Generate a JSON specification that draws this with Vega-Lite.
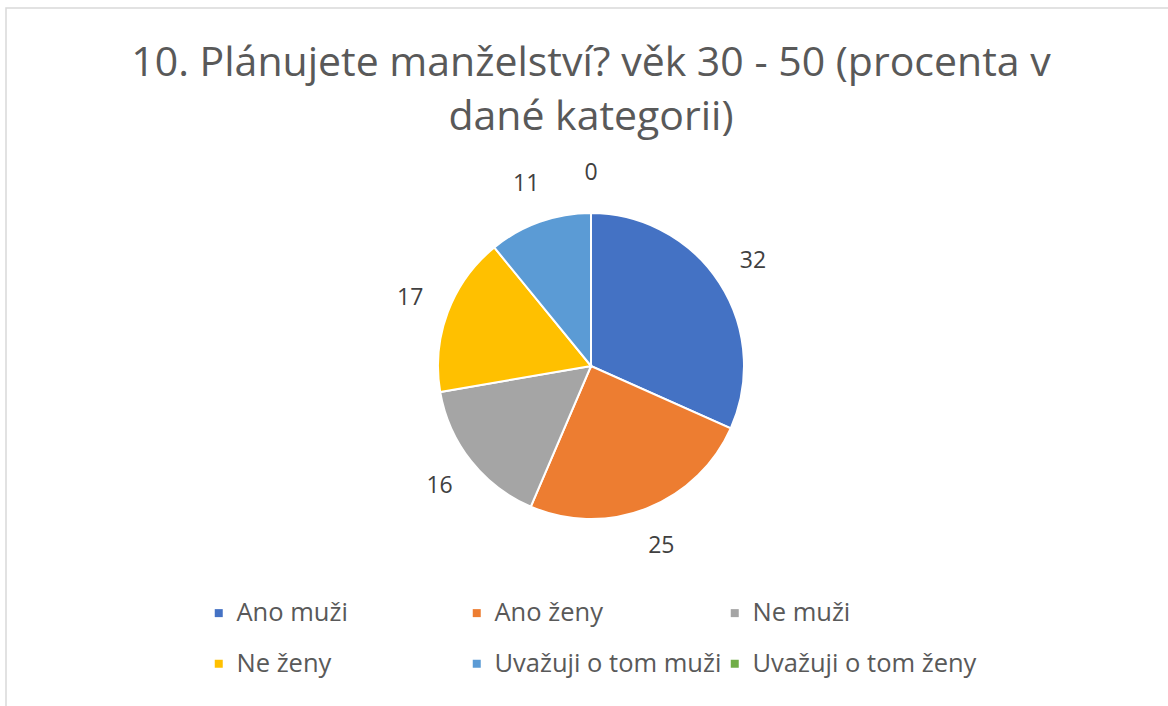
{
  "$schema": "https://vega.github.io/schema/vega-lite/v6.json",
  "width": 1170,
  "height": 716,
  "autosize": {"type": "none"},
  "padding": {"left": 6, "top": 8, "right": 0, "bottom": 0},
  "background": "white",
  "title": {
    "text": ["10. Plánujete manželství? věk 30 - 50 (procenta v", "dané kategorii)"],
    "anchor": "middle",
    "frame": "group",
    "font": "Open Sans",
    "fontSize": 41,
    "fontWeight": "normal",
    "color": "#595959",
    "lineHeight": 54,
    "offset": -131
  },
  "data": {
    "values": [
      {"i": 1, "kategorie": "Ano muži", "procenta": 32},
      {"i": 2, "kategorie": "Ano ženy", "procenta": 25},
      {"i": 3, "kategorie": "Ne muži", "procenta": 16},
      {"i": 4, "kategorie": "Ne ženy", "procenta": 17},
      {"i": 5, "kategorie": "Uvažuji o tom muži", "procenta": 11},
      {"i": 6, "kategorie": "Uvažuji o tom ženy", "procenta": 0}
    ]
  },
  "layer": [
    {
      "mark": {"type": "point", "opacity": 0},
      "encoding": {
        "x": {"field": "i", "type": "quantitative", "axis": null},
        "y": {"field": "procenta", "type": "quantitative", "axis": null}
      }
    },
    {
      "mark": {"type": "arc", "outerRadius": 153, "stroke": "white", "strokeWidth": 2},
      "encoding": {
        "theta": {"field": "procenta", "type": "quantitative", "stack": true},
        "order": {"field": "i", "type": "quantitative"},
        "color": {
          "field": "kategorie",
          "type": "nominal",
          "scale": {
            "domain": ["Ano muži", "Ano ženy", "Ne muži", "Ne ženy", "Uvažuji o tom muži", "Uvažuji o tom ženy"],
            "range": ["#4472C4", "#ED7D31", "#A5A5A5", "#FFC000", "#5B9BD5", "#70AD47"]
          },
          "legend": {
            "title": null,
            "orient": "none",
            "legendX": 200,
            "legendY": 592,
            "direction": "horizontal",
            "columns": 3,
            "gridAlign": "all",
            "columnPadding": 0,
            "rowPadding": 24,
            "symbolType": "square",
            "symbolSize": 64,
            "symbolStrokeWidth": 0,
            "labelFont": "Open Sans",
            "labelFontSize": 25.5,
            "labelColor": "#595959",
            "labelOffset": 5,
            "labelLimit": 400
          }
        }
      }
    },
    {
      "mark": {"type": "text", "radius": 193, "font": "Open Sans", "fontSize": 23, "color": "#404040"},
      "encoding": {
        "theta": {"field": "procenta", "type": "quantitative", "stack": true},
        "order": {"field": "i", "type": "quantitative"},
        "text": {"field": "procenta", "type": "quantitative"}
      }
    }
  ],
  "config": {
    "view": {"stroke": "#d9d9d9", "strokeWidth": 1.5}
  }
}
